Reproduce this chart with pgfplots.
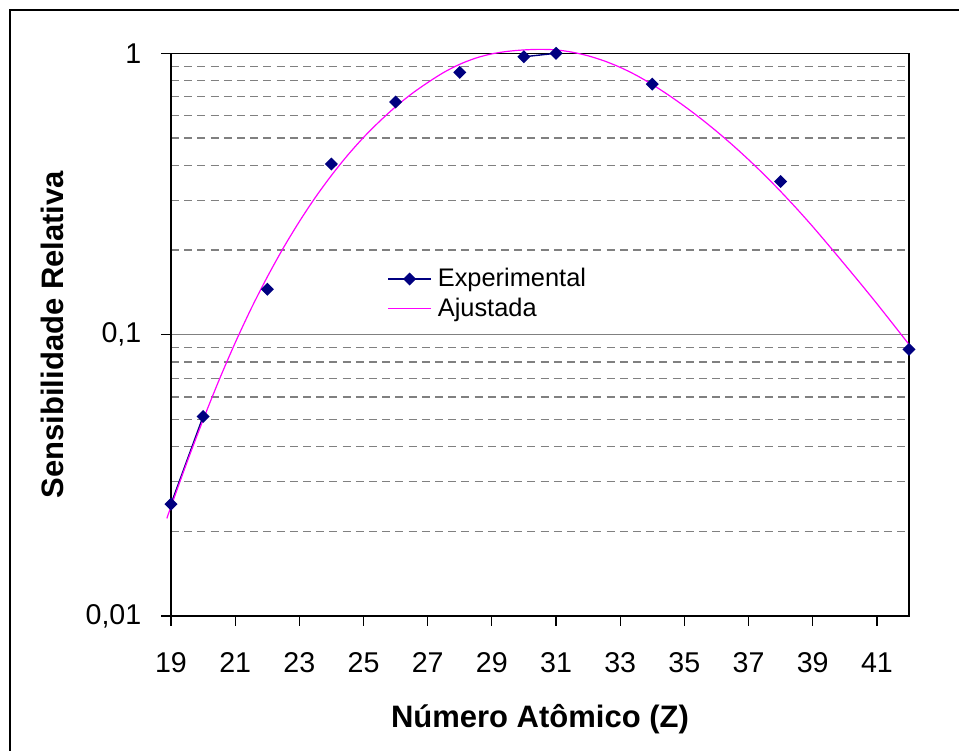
\documentclass[border=0pt]{standalone}
\usepackage{fontspec}
\setmainfont{Liberation Sans}
\usepackage{pgfplots}
\pgfplotsset{compat=1.18}
\definecolor{navyX}{RGB}{0,0,128}
\definecolor{magentaX}{RGB}{255,0,255}
\definecolor{gridgray}{RGB}{128,128,128}
\begin{document}
\begin{tikzpicture}
\useasboundingbox (0,0) rectangle (479.5bp,375.5bp);
\draw[line width=1bp] (4.75bp,-5bp) -- (4.75bp,370.25bp) -- (490bp,370.25bp);
\begin{axis}[
  at={(85.5bp,67.5bp)}, anchor=south west,
  scale only axis, width=369bp, height=281.35bp,
  clip=false,
  xmin=19, xmax=42, ymode=log, ymin=0.01, ymax=1,
  xtick={19,21,...,41}, ytick={0.01,0.1,1}, yticklabels={{0,01},{0,1},{1}},
  xtick pos=left, ytick pos=left,
  tick align=outside, major tick length=5bp, minor tick length=0pt,
  tick style={black, line width=0.6bp},
  axis line style={black, line width=0.6bp},
  ymajorgrids, yminorgrids,
  major grid style={gridgray, line width=0.6bp},
  minor grid style={gridgray, line width=0.6bp, dash pattern=on 4bp off 2.6bp},
  unbounded coords=jump,
  /pgf/number format/assume math mode=true,
  xticklabel style={font=\fontsize{14.3bp}{17bp}\selectfont, inner sep=0pt, anchor=north, yshift=-13bp},
  yticklabel style={font=\fontsize{14.3bp}{17bp}\selectfont, inner sep=0pt, anchor=east, xshift=-9.65bp},
  xlabel={Número Atômico (Z)},
  ylabel={Sensibilidade Relativa},
  xlabel style={font=\bfseries\fontsize{15.5bp}{18bp}\selectfont, at={(axis description cs:0.5,-0.19726)}, anchor=base, inner sep=0pt},
  ylabel style={font=\bfseries\fontsize{15.5bp}{18bp}\selectfont, at={(axis description cs:-0.14566,0.5)}, anchor=base, rotate=0, inner sep=0pt},
  legend style={at={(axis description cs:0.2927,0.5726)}, anchor=west, draw=none, fill=none,
    font=\fontsize{12.7bp}{15bp}\selectfont, inner sep=0pt, row sep=3bp,
    nodes={inner sep=0.5bp}, cells={anchor=west}},
  legend image code/.code={\draw[mark repeat=2,mark phase=2,#1] plot coordinates {(0bp,0bp) (10.75bp,0bp) (21.5bp,0bp)};
    \path (24bp,0bp);},
]
\addplot[navyX, line width=0.7bp, mark=square*, mark size=1.95bp, mark options={rotate=45, fill=navyX, draw=navyX, solid}] coordinates {
(19,0.0250) (20,0.0512) (21,nan) (22,0.145) (23,nan) (24,0.404) (25,nan)
(26,0.671) (27,nan) (28,0.855) (29,nan)
(30,0.972) (31,1.0) (32,nan) (34,0.777) (35,nan) (38,0.350) (39,nan) (42,0.0887)
};
\addlegendentry{Experimental}
\addplot[magentaX, line width=0.6bp, smooth, no marks] coordinates {
(18.87,0.02223) (19.0,0.02449) (19.5,0.03524) (20.0,0.04977) (20.5,0.06902)
(21.0,0.09354) (21.5,0.1239) (22.0,0.1603) (22.5,0.2032) (23.0,0.2523)
(23.5,0.3076) (24.0,0.3681) (24.5,0.4335) (25.0,0.5023) (25.5,0.5728)
(26.0,0.6457) (26.5,0.7178) (27.0,0.7870) (27.5,0.8551) (28.0,0.9141)
(28.5,0.9616) (29.0,0.9954) (29.5,1.0163) (30.0,1.0280) (30.5,1.0328)
(31.0,1.0280) (31.5,1.0093) (32.0,0.9795) (32.5,0.9397) (33.0,0.8913)
(33.5,0.8356) (34.0,0.7745) (34.5,0.7112) (35.0,0.6486) (35.5,0.5875)
(36.0,0.5284) (36.5,0.4721) (37.0,0.4188) (37.5,0.3690) (38.0,0.3228)
(38.5,0.2805) (39.0,0.2421) (39.5,0.2075) (40.0,0.1774) (40.5,0.1514)
(41.0,0.1288) (41.5,0.1091) (42.0,0.0923)
};
\addlegendentry{Ajustada}
\end{axis}
\end{tikzpicture}
\end{document}
